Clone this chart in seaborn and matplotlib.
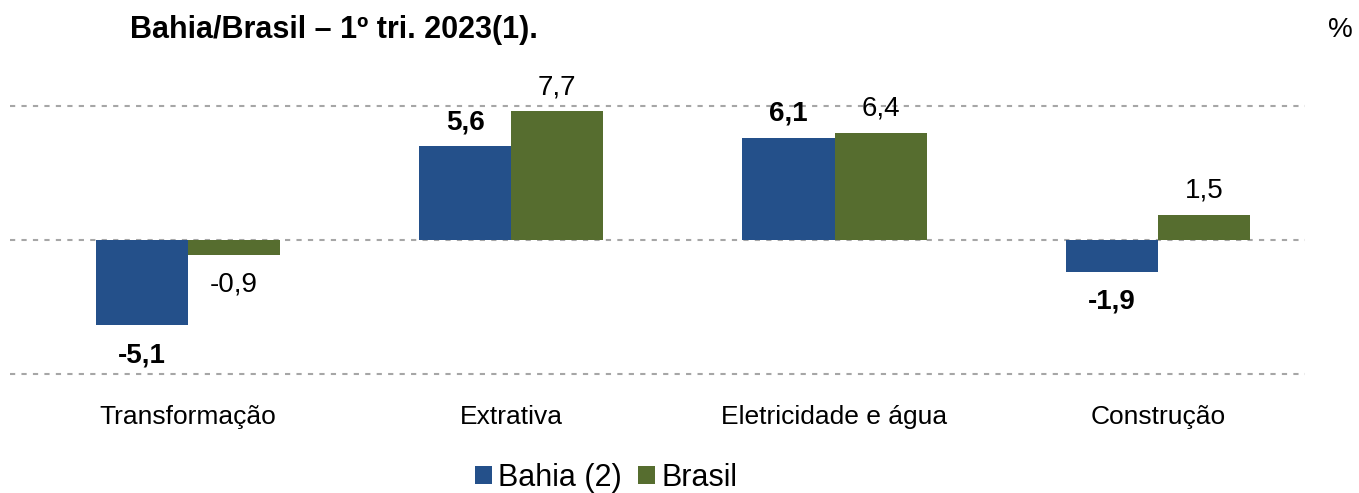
import pandas as pd
import matplotlib.pyplot as plt
import seaborn as sns

# Dados
setores = ['Transformação', 'Extrativa', 'Eletricidade e água', 'Construção']
bahia = [-5.1, 5.6, 6.1, -1.9]
brasil = [-0.9, 7.7, 6.4, 1.5]
series = ['Bahia (2)', 'Brasil']
cores = ['#24508A', '#566D2F']

df = pd.DataFrame({
    'Setor': setores * 2,
    'Valor': bahia + brasil,
    'Serie': [series[0]] * 4 + [series[1]] * 4,
})

sns.set_style('white')
plt.rcParams['font.family'] = ['Liberation Sans', 'DejaVu Sans']
plt.rcParams['text.color'] = 'black'
plt.rcParams['xtick.color'] = 'black'

fig = plt.figure(figsize=(13.59, 4.93), dpi=100)
ax = fig.add_axes([10 / 1359, 94 / 493, 1295 / 1359, 318 / 493])

sns.barplot(data=df, x='Setor', y='Valor', hue='Serie', palette=cores,
            width=0.57, saturation=1, linewidth=0, ax=ax, legend=True)

ax.set_ylim(-9.5, 9.5)
ax.set_xlim(-0.55, 3.455)
ax.set_yticks([-8, 0, 8])
ax.set_yticklabels([])
ax.yaxis.grid(True, linestyle=(0, (2.5, 3)), color='#A6A6A6', linewidth=1.5)
ax.set_axisbelow(True)
ax.tick_params(axis='x', length=0, labelsize=19, pad=4, labelcolor='black')
ax.tick_params(axis='y', length=0)
ax.set_xlabel('')
ax.set_ylabel('')
sns.despine(ax=ax, left=True, bottom=True)

# Rótulos de dados
for i, cont in enumerate(ax.containers):
    for bar, v in zip(cont, cont.datavalues):
        x = bar.get_x() + bar.get_width() / 2
        txt = f'{v:.1f}'.replace('.', ',')
        peso = 'bold' if i == 0 else 'normal'
        if v >= 0:
            ax.annotate(txt, (x, v), xytext=(0, 8), textcoords='offset points',
                        ha='center', va='bottom', fontsize=20, fontweight=peso,
                        color='black')
        else:
            ax.annotate(txt, (x, v), xytext=(0, -12), textcoords='offset points',
                        ha='center', va='top', fontsize=20, fontweight=peso,
                        color='black')

leg = ax.legend(loc='center', bbox_to_anchor=(606 / 1359, 1 - 478 / 493),
                bbox_transform=fig.transFigure, ncol=2, frameon=False,
                fontsize=22, handlelength=0.55, handleheight=0.55,
                handletextpad=0.2, columnspacing=0.55)
for t in leg.get_texts():
    t.set_color('black')

fig.text(130 / 1359, 1 - 30 / 493, 'Bahia/Brasil – 1º tri. 2023(1).', fontsize=22,
         fontweight='bold', ha='left', va='center', color='black')
fig.text(1340 / 1359, 1 - 30 / 493, '%', fontsize=20, ha='center', va='center',
         color='black')

fig.savefig('out.png', dpi=100)
